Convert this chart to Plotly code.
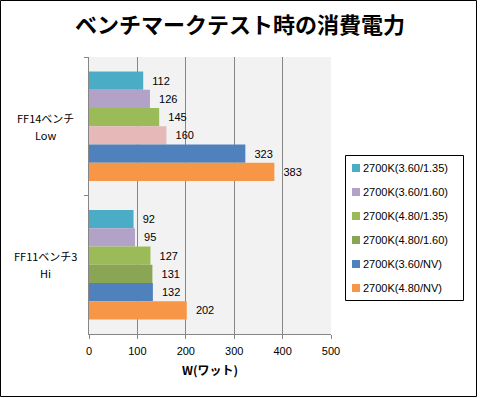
import plotly.graph_objects as go

categories = ["FF14ベンチ<br>Low", "FF11ベンチ3<br>Hi"]
series_names = ["2700K(3.60/1.35)", "2700K(3.60/1.60)", "2700K(4.80/1.35)",
                "2700K(4.80/1.60)", "2700K(3.60/NV)", "2700K(4.80/NV)"]
values = [
    [112, 92],
    [126, 95],
    [145, 127],
    [160, 131],
    [323, 132],
    [383, 202],
]
colors = ["#4BACC6", "#B3A2C7", "#9BBB59", "#8AA654", "#4F81BD", "#F79646"]
# point-level colour overrides (FF14 bar of 4.80/1.60 is pink in the original)
point_colors = [
    [colors[0], colors[0]],
    [colors[1], colors[1]],
    [colors[2], colors[2]],
    ["#E6B9B8", colors[3]],
    [colors[4], colors[4]],
    [colors[5], colors[5]],
]
x_ticks = [0, 100, 200, 300, 400, 500]

FONT = "Noto Sans CJK JP, sans-serif"
NUMFONT = "Liberation Sans, Noto Sans CJK JP, sans-serif"

W, H = 480, 398
L, R, T, B = 89, 149, 57, 64
pw, ph = W - L - R, H - T - B

fig = go.Figure()
for i, name in enumerate(series_names):
    fig.add_trace(go.Bar(
        y=categories, x=values[i], name=name, orientation="h",
        marker=dict(color=point_colors[i], line=dict(width=0)),
        text=["\u00a0\u00a0" + str(v) for v in values[i]],
        textposition="outside", constraintext="none",
        textfont=dict(size=11, color="black", family=NUMFONT),
        cliponaxis=False, showlegend=False, hoverinfo="skip",
    ))

def px(x):
    return (x - L) / pw
def py(y):
    return (H - B - y) / ph

annotations = []
# category labels, centred like the original, two lines each
for c in categories:
    lines = c.split("<br>")
    for j, line in enumerate(lines):
        annotations.append(dict(
            x=px(45), xref="paper", y=c, yref="y", text=line,
            yshift=(len(lines) - 1) * 8.5 - j * 17,
            showarrow=False, xanchor="center", yanchor="middle", align="center",
            font=dict(size=11, color="black", family=FONT)))

# legend drawn inside a bordered box
shapes = []
lx0, lx1, ly0, ly1 = 345, 463, 155, 300
shapes.append(dict(type="rect", xref="paper", yref="paper",
                   x0=px(lx0 + 0.5), x1=px(lx1 + 0.5), y0=py(ly1 + 0.5), y1=py(ly0 + 0.5),
                   line=dict(color="black", width=1), fillcolor="white"))
for i, name in enumerate(series_names):
    yc = 168 + i * 24
    shapes.append(dict(type="rect", xref="paper", yref="paper",
                       x0=px(352), x1=px(360), y0=py(yc + 4), y1=py(yc - 4),
                       line=dict(width=0), fillcolor=colors[i]))
    annotations.append(dict(
        x=px(361), xref="paper", y=py(yc), yref="paper", text=name,
        showarrow=False, xanchor="left", yanchor="middle",
        font=dict(size=11, color="black", family=NUMFONT)))

# outer chart border
shapes.append(dict(type="rect", xref="paper", yref="paper",
                   x0=px(0.5), x1=px(476.5), y0=py(396.5), y1=py(0.5),
                   line=dict(color="black", width=1), fillcolor="rgba(0,0,0,0)",
                   layer="above"))

fig.update_layout(
    width=W, height=H,
    margin=dict(l=L, r=R, t=T, b=B, autoexpand=False),
    paper_bgcolor="white", plot_bgcolor="#F2F2F2",
    barmode="group", bargap=0.21, bargroupgap=0,
    showlegend=False, hovermode=False,
    font=dict(family=FONT, size=11, color="black"),
    title=dict(text="<b>ベンチマークテスト時の消費電力</b>", x=0.5, xref="container",
               xanchor="center", y=1 - 25 / H, yanchor="middle",
               font=dict(size=22, family=FONT, color="black")),
    xaxis=dict(range=[0, 500], tickvals=x_ticks, showgrid=True,
               gridcolor="#868686", gridwidth=1, showline=True,
               linecolor="#868686", linewidth=1, ticks="outside", ticklen=4,
               tickcolor="#868686", zeroline=False, ticklabelstandoff=3,
               tickfont=dict(size=11, color="black", family=NUMFONT),
               title=dict(text="<b>W(ワット)</b>", standoff=10,
                          font=dict(size=12, color="black", family=FONT))),
    yaxis=dict(autorange="reversed", showline=True, linecolor="#868686",
               linewidth=1, ticks="outside", ticklen=4, tickcolor="#868686",
               tickson="boundaries", showgrid=False, showticklabels=False),
    annotations=annotations,
    shapes=shapes,
)

fig.write_html("out.html", config={"displayModeBar": False},
               post_script="document.body.style.margin='0';")
